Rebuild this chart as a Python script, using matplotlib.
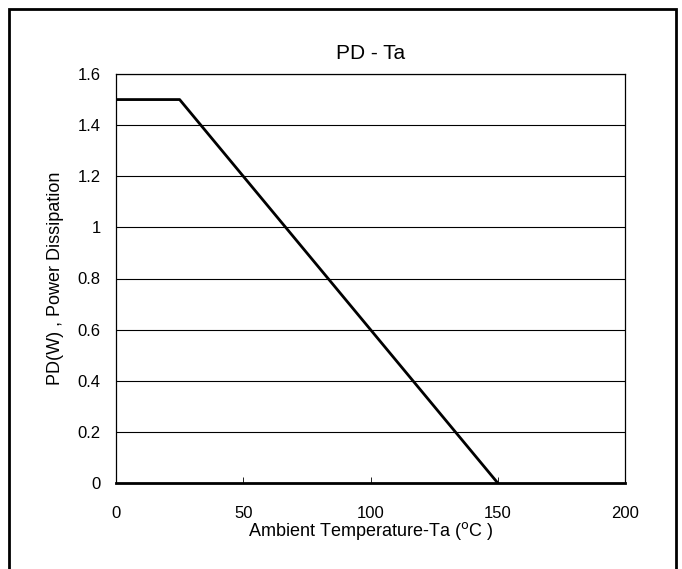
import matplotlib
matplotlib.use("Agg")
import matplotlib.pyplot as plt
from matplotlib.patches import Rectangle

plt.rcParams['font.family'] = ['Liberation Sans', 'DejaVu Sans']

# derating curve
temperatura = [0, 25, 150]
potencia = [1.5, 1.5, 0]

xticks = [0, 50, 100, 150, 200]
yticks = [0, 0.2, 0.4, 0.6, 0.8, 1, 1.2, 1.4, 1.6]
yticklabels = ["0", "0.2", "0.4", "0.6", "0.8", "1", "1.2", "1.4", "1.6"]

fig = plt.figure(figsize=(6.82, 5.69), dpi=100)
ax = fig.add_axes([116/682, 1 - 483/569, (625 - 116)/682, (483 - 74)/569])

for y in yticks[1:]:
    ax.axhline(y, color="black", linewidth=0.8, zorder=1)

ax.plot(temperatura, potencia, color="black", linewidth=2, zorder=3)

ax.set_xlim(0, 200)
ax.set_ylim(0, 1.6)
ax.set_xticks(xticks)
ax.set_yticks(yticks)
ax.set_yticklabels(yticklabels)
ax.tick_params(axis="x", direction="in", length=4, width=0.6, pad=16.5, labelsize=12)
ax.tick_params(axis="y", direction="in", length=4, width=0.6, pad=11, labelsize=12)

for s in ["top", "right", "left"]:
    ax.spines[s].set_linewidth(0.9)
ax.spines["bottom"].set_linewidth(2)

ax.set_title("PD - Ta", fontsize=15, pad=11)
ax.set_xlabel("Ambient Temperature-Ta ($^{\\rm o}$C )", fontsize=13, labelpad=-1)
ax.set_ylabel("PD(W) , Power Dissipation", fontsize=13, labelpad=10)

# marco exterior (el borde inferior queda fuera de la imagen)
fig.patches.append(Rectangle((9/682, -0.05), 667/682, 1.05 - 9/569,
                             transform=fig.transFigure, fill=False,
                             edgecolor="black", linewidth=2))

fig.savefig("out.png", dpi=100)
